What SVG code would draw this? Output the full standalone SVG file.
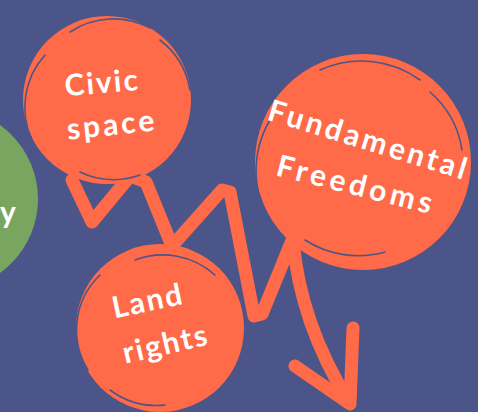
<svg xmlns="http://www.w3.org/2000/svg" width="478" height="412" viewBox="0 0 478 412">
<style>
.bg{fill:#4B5589}
.o{fill:#FF6A48}
.g{fill:#78A660}
.ln{fill:none;stroke:#FF6A48;stroke-width:13;stroke-linejoin:round;stroke-linecap:round}
.sc{fill:none;stroke:#4B5589;stroke-width:1.6;stroke-linecap:round}
.t{fill:#FFFFFF;font-family:Lato,"Open Sans",sans-serif;font-weight:bold;font-size:30px;text-anchor:middle}
</style>
<rect class="bg" x="0" y="0" width="478" height="412"/>
<g id="connectors">
<path class="ln" d="M72 180 L92 222 L130 176 L146 182 L172 246 L222 190 L230 192 L254 316 L262 314 L293 238"/>
<path class="ln" d="M293 240 C298 300 318 352 349 402"/>
<path class="ln" stroke-width="14" d="M295 366 L350 404 L353 328"/>
</g>
<g id="node-green">
<circle class="g" cx="-53" cy="199" r="91"/>
<text class="t" x="8" y="223">y</text>
</g>
<g id="node-civic">
<circle class="o" cx="107" cy="100" r="84"/>
<path class="sc" d="M32 140 A78 78 0 0 1 45 55"/>
<path class="sc" d="M70 32 A78 78 0 0 1 150 28"/>
<path class="sc" d="M160 40 A80 80 0 0 1 190 90"/>
<path class="sc" d="M80 172 A78 78 0 0 0 140 175"/>
<text class="t" x="103" y="93" font-size="32" letter-spacing="2" transform="rotate(-5 103 93)">Civic</text>
<text class="t" x="113" y="135" font-size="32" letter-spacing="3" transform="rotate(-6 113 135)">space</text>
</g>
<g id="node-land">
<circle class="o" cx="160" cy="328" r="84"/>
<path class="sc" d="M88 370 A76 76 0 0 1 100 275"/>
<path class="sc" d="M135 260 A78 78 0 0 1 215 275"/>
<path class="sc" d="M110 390 A78 78 0 0 0 165 405"/>
<text class="t" x="150" y="311" font-size="33" letter-spacing="2" transform="rotate(-12 150 311)">Land</text>
<text class="t" x="168" y="354" font-size="33" letter-spacing="2" transform="rotate(-13 168 354)">rights</text>
</g>
<g id="node-fundamental">
<circle class="o" cx="363" cy="162" r="108"/>
<path class="sc" d="M272 225 A100 100 0 0 1 270 120"/>
<path class="sc" d="M320 70 A100 100 0 0 1 420 80"/>
<path class="sc" d="M430 92 A96 96 0 0 1 462 150"/>
<path class="sc" d="M305 240 A98 98 0 0 0 385 252"/>
<text class="t" x="366" y="150" font-size="31" letter-spacing="3.2" transform="rotate(17 366 150)">Fundamental</text>
<text class="t" x="354" y="195" font-size="31" letter-spacing="4" transform="rotate(14 354 195)">Freedoms</text>
</g>
</svg>
